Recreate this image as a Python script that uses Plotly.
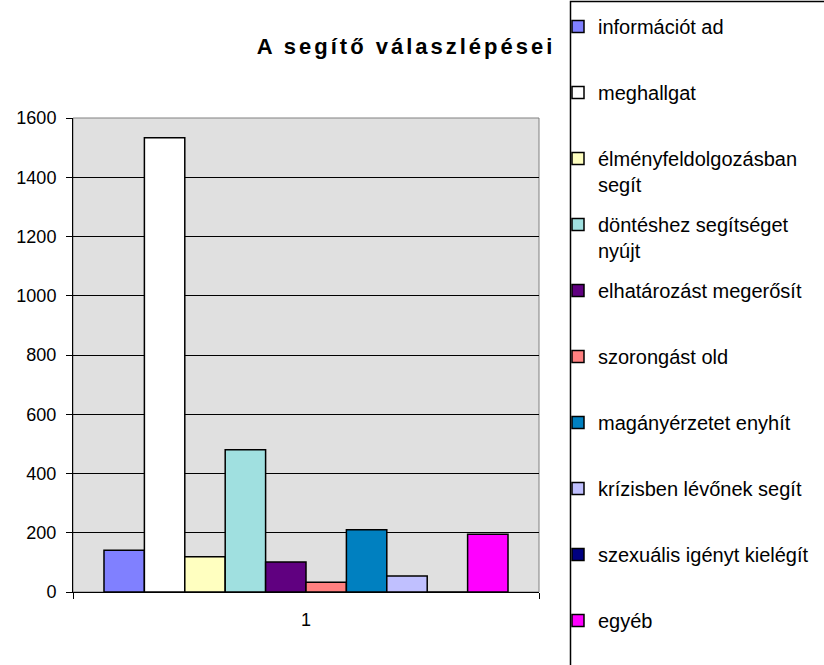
import plotly.graph_objects as go

categories = ["1"]
series_names = [
    "információt ad",
    "meghallgat",
    "élményfeldolgozásban<br>segít",
    "döntéshez segítséget<br>nyújt",
    "elhatározást megerősít",
    "szorongást old",
    "magányérzetet enyhít",
    "krízisben lévőnek segít",
    "szexuális igényt kielégít",
    "egyéb",
]
series_values = [141, 1533, 119, 480, 101, 33, 210, 54, 0, 195]
series_colors = ["#8080FF", "#FFFFFF", "#FFFFC0", "#A0E0E0", "#600080",
                 "#FF8080", "#0080C0", "#C0C0FF", "#000080", "#FF00FF"]
y_ticks = [0, 200, 400, 600, 800, 1000, 1200, 1400, 1600]

# plot area in pixels
L, R, T, B = 73, 539, 118, 592
W, H = 824, 665

fig = go.Figure()
for i, (name, val, col) in enumerate(zip(series_names, series_values, series_colors)):
    label = name if "<br>" in name else name + "<br> "
    fig.add_trace(go.Bar(
        x=categories, y=[val], name=label, legendgroup=f"g{i}",
        marker=dict(color=col, line=dict(color="#000000", width=1.5)),
    ))

fig.update_layout(
    width=W, height=H,
    barmode="group", bargap=0.133, bargroupgap=0,
    paper_bgcolor="#FFFFFF", plot_bgcolor="#E0E0E0",
    margin=dict(l=L, r=W - R, t=T, b=H - B, autoexpand=False),
    font=dict(family="Liberation Sans, Arial, sans-serif", size=18, color="#000000"),
    title=dict(text="<b>A segítő válaszlépései</b>", x=406 / W, xanchor="center",
               y=1 - 46 / H, yanchor="middle", xref="container", yref="container",
               font=dict(size=22)),
    legend=dict(xref="container", yref="container", x=558 / W, y=1 - 7 / H,
                xanchor="left", yanchor="top", borderwidth=0,
                bgcolor="rgba(0,0,0,0)", tracegroupgap=11, valign="top",
                font=dict(size=20), itemwidth=30, maxheight=1.0),
    showlegend=True,
)
fig.update_xaxes(
    type="category", tickson="boundaries", ticks="outside", ticklen=6,
    tickcolor="#000000", showline=True, linecolor="#000000", linewidth=1,
    showgrid=False, tickfont=dict(size=18), ticklabelstandoff=11,
)
fig.update_yaxes(
    range=[0, 1600], tickvals=y_ticks, ticks="outside", ticklen=6,
    tickcolor="#000000", showline=True, linecolor="#000000", linewidth=1,
    showgrid=True, gridcolor="#000000", gridwidth=1, zeroline=False,
    tickfont=dict(size=18), ticklabelstandoff=6,
)
fig.add_shape(type="rect", xref="x domain", yref="y domain", x0=0, x1=1, y0=0, y1=1,
              line=dict(color="#808080", width=1), fillcolor="rgba(0,0,0,0)", layer="below")
# legend frame
fig.add_shape(type="rect", xref="paper", yref="paper",
              x0=(570.5 - L) / (R - L), x1=(W + 10 - L) / (R - L),
              y0=(B - (H + 10)) / (B - T), y1=(B - 1.5) / (B - T),
              line=dict(color="#000000", width=1.5), fillcolor="rgba(0,0,0,0)")

post = (
    "document.body.style.margin='0';"
    "document.body.style.overflow='hidden';"
    "var s=document.createElement('style');"
    "s.textContent='.gtitle{letter-spacing:3px;}';"
    "document.head.appendChild(s);"
)
fig.write_html("out.html", post_script=post, config={"displayModeBar": False})
